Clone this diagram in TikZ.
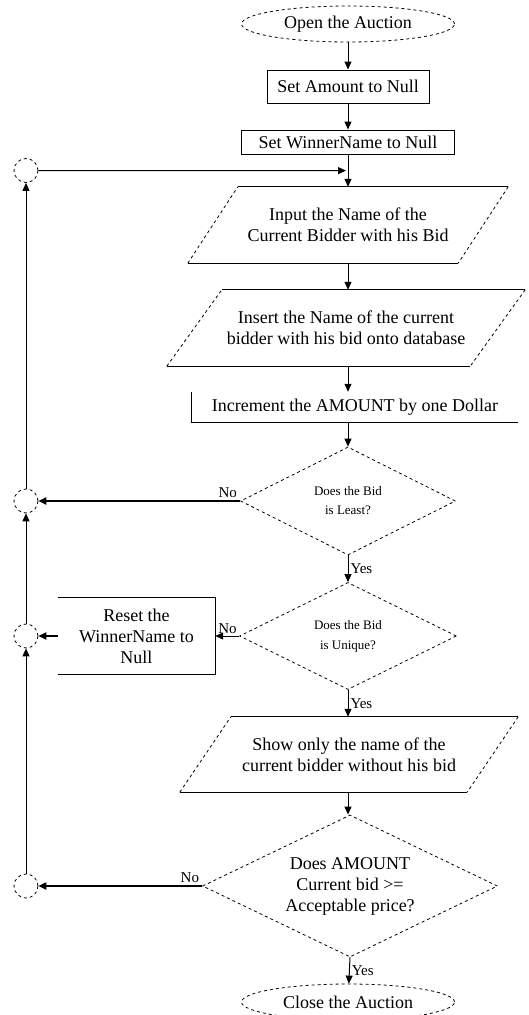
\documentclass[tikz,border=0pt]{standalone}
\usepackage{fontspec}
\setmainfont{Liberation Serif}
\usepackage{tikz}
\usetikzlibrary{ 
  	positioning,
  	arrows.meta,
  	shapes,
  	calc
  }
\tikzstyle{box}=[draw,line width=1pt,inner sep=0pt,align=center,font=\fontsize{18}{21}\selectfont]
\tikzstyle{io}=[inner sep=0pt,align=center,font=\fontsize{18}{21}\selectfont]
\tikzstyle{term}=[ellipse,draw,dashed,line width=0.8pt,inner sep=0pt,minimum width=213pt,minimum height=36pt,font=\fontsize{18}{21}\selectfont]
\tikzstyle{dec}=[diamond,draw,dashed,line width=0.8pt,inner sep=0pt,aspect=2,align=center]
\tikzstyle{conn}=[circle,draw,dashed,line width=0.8pt,inner sep=0pt,minimum size=24pt]
\tikzstyle{arr}=[line width=1pt,-{Triangle[length=8pt,width=7pt]}]
\tikzstyle{arrno}=[arr,line width=2.2pt]
\tikzstyle{lbl}=[inner sep=2pt,font=\fontsize{15}{18}\selectfont]

\begin{document}
\begin{tikzpicture}[x=1pt,y=-1pt]
  \useasboundingbox (0,0) rectangle (529,1015);
  \node [term] (open) at (348,24) {Open the Auction};
  \node [box, minimum width=162pt, minimum height=33pt] (amount) at (348,86.5) {Set Amount to Null};
  \node [box, minimum width=213pt, minimum height=24pt] (winner) at (348,142) {Set WinnerName to Null};
%
  \node [io, minimum width=320pt, minimum height=76pt] (input) at (348,225)
     {Input the Name of the\\Current Bidder with his Bid};
  \draw [line width=1pt]
     ($(input.north west)+(50,0)$) -- (input.north east)
     (input.south west) -- ($(input.south east)+(-50,0)$);
  \draw [dashed, line width=0.8pt]
     (input.north east) -- ($(input.south east)+(-50,0)$)
     (input.south west) -- ($(input.north west)+(50,0)$);
%
  \node [io, minimum width=358pt, minimum height=76pt] (insert) at (346,328)
     {Insert the Name of the current\\bidder with his bid onto database};
  \draw [line width=1pt]
     ($(insert.north west)+(55,0)$) -- (insert.north east)
     (insert.south west) -- ($(insert.south east)+(-55,0)$);
  \draw [dashed, line width=0.8pt]
     (insert.north east) -- ($(insert.south east)+(-55,0)$)
     (insert.south west) -- ($(insert.north west)+(55,0)$);
%
  \node [io, minimum width=326pt, minimum height=30pt] (incr) at (355,407)
     {Increment the AMOUNT by one Dollar};
  \draw [line width=1pt] (incr.north west) -- (incr.south west) -- (incr.south east);
%
  \node [dec, minimum width=215pt, minimum height=108pt, font=\fontsize{13}{19}\selectfont] (least) at (348,501)
     {Does the Bid\\is Least?};
  \node [dec, minimum width=217pt, minimum height=107pt, font=\fontsize{13}{20}\selectfont] (unique) at (348,636)
     {Does the Bid\\is Unique?};
  \node [io, minimum width=157pt, minimum height=76pt] (reset) at (136.5,636)
     {Reset the\\WinnerName to\\Null};
  \draw [line width=1pt] (reset.north west) -- (reset.north east) -- (reset.south east) -- (reset.south west);
%
  \node [io, minimum width=338pt, minimum height=75pt] (show) at (349,754.5)
     {Show only the name of the\\current bidder without his bid};
  \draw [line width=1pt]
     ($(show.north west)+(51,0)$) -- (show.north east)
     (show.south west) -- ($(show.south east)+(-51,0)$);
  \draw [dashed, line width=0.8pt]
     (show.north east) -- ($(show.south east)+(-51,0)$)
     (show.south west) -- ($(show.north west)+(51,0)$);
%
  \node [dec, aspect=2.08, minimum width=295pt, minimum height=142pt, font=\fontsize{18}{21}\selectfont] (accept) at (350,886)
     {Does AMOUNT\\Current bid >=\\Acceptable price?};
  \node [term] (close) at (348,1002) {Close the Auction};
%
  \node [conn] (c1) at (26,170.5) {};
  \node [conn] (c2) at (26,501) {};
  \node [conn] (c3) at (26,636) {};
  \node [conn] (c4) at (26,886) {};
  \coordinate (merge) at ($(winner.south)!.5!(input.north)$);
%
  \draw [arr] (open) -- (amount);
  \draw [arr] (amount) -- (winner);
  \draw [arr] (winner) -- (winner.south |- input.north);
  \draw [arr] (input.south -| winner.south) -- (winner.south |- insert.north);
  \draw [arr] (winner.south |- insert.south) -- (winner.south |- incr.north);
  \draw [arr] (winner.south |- incr.south) -- (least);
  \draw [arr] (least) -- node [lbl, right] {Yes} (unique);
  \draw [arr] (unique) -- node [lbl, right] {Yes} (unique.south |- show.north);
  \draw [arr] (unique.south |- show.south) -- (accept.north -| unique.south);
  \draw [arr] (accept.south) -- node [lbl, right] {Yes} (close);
%
  \draw [arrno] (least) -- node [lbl, pos=0, above left] {No} (c2);
  \draw [arr] (unique) -- node [lbl, pos=0, above left] {No} (reset);
  \draw [arrno] (reset) -- (c3);
  \draw [arrno] (accept) -- node [lbl, pos=0, above left] {No} (c4);
%
  \draw [arr] (c4) -- (c3);
  \draw [arr] (c3) -- (c2);
  \draw [arr] (c2) -- (c1);
  \draw [arr, shorten >=2pt] (c1) -- (merge);
\end{tikzpicture}
\end{document}
